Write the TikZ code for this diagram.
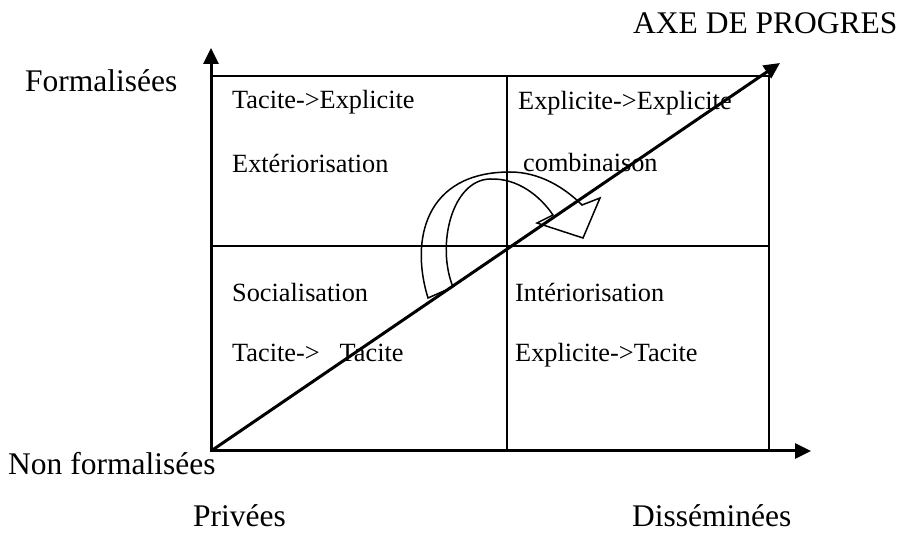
\documentclass[tikz,border=0pt]{standalone}
\usepackage{fontspec}
\setmainfont{Liberation Serif}
\usetikzlibrary{arrows.meta}
\begin{document}
\begin{tikzpicture}[x=1pt,y=-1pt,
  axis/.style={line width=3pt,-{Triangle[length=16pt,width=15pt]}},
  grid/.style={line width=2.2pt},
  bigtxt/.style={anchor=base west,inner sep=0pt,font=\fontsize{31.5}{36}\selectfont},
  boxtxt/.style={anchor=base west,inner sep=0pt,font=\fontsize{26.3}{30}\selectfont},
  bendarrow/.style={line width=1.5pt,line join=miter}]
\useasboundingbox (0,0) rectangle (903,534);
% key points
\coordinate (O) at (211,451);
\coordinate (ytip) at (211,48);
\coordinate (xtip) at (811,451);
\coordinate (dtip) at (780,63);
\coordinate (TR) at (769,76);
\coordinate (midtop) at (507,76);
\coordinate (midbot) at (507,451);
\coordinate (midleft) at (211,246);
\coordinate (midright) at (769,246);
% box
\draw[grid] (O) rectangle (TR);
\draw[grid] (midtop) -- (midbot);
\draw[grid] (midleft) -- (midright);
% axes
\draw[axis] (O) -- (ytip);
\draw[axis] (O) -- (xtip);
\draw[axis] (O) -- (dtip);
% curved arrow
\coordinate (a1) at (428,298);
\coordinate (a2) at (510,172);
\coordinate (a3) at (582,205);
\coordinate (b1) at (453,287);
\coordinate (b2) at (490,179);
\coordinate (b3) at (553,215);
\coordinate (h1) at (537,223);
\coordinate (h2) at (583,238);
\coordinate (h3) at (600,198);
\draw[bendarrow] (b1) -- (a1)
  .. controls (410,240) and (425,172) .. (a2)
  .. controls (540,172) and (565,188) .. (a3)
  -- (h3) -- (h2) -- (h1) -- (b3)
  .. controls (540,196) and (518,178) .. (b2)
  .. controls (452,180) and (436,245) .. (b1);
% outer labels
\node[bigtxt] (axe) at (633,34) {AXE DE PROGRES};
\node[bigtxt] (form) at (25,92) {Formalisées};
\node[bigtxt] (nonform) at (8,475) {Non formalisées};
\node[bigtxt] (priv) at (193,526) {Privées};
\node[bigtxt] (diss) at (632,526) {Disséminées};
% quadrant labels
\node[boxtxt] (q1a) at (232,109) {Tacite->Explicite};
\node[boxtxt] (q1b) at (232,173) {Extériorisation};
\node[boxtxt] (q2a) at (518,110) {Explicite->Explicite};
\node[boxtxt] (q2b) at (523,172) {combinaison};
\node[boxtxt] (q3a) at (232,302) {Socialisation};
\node[boxtxt] (q3b) at (232,362) {Tacite->\hspace{20pt}Tacite};
\node[boxtxt] (q4a) at (515,302) {Intériorisation};
\node[boxtxt] (q4b) at (515,362) {Explicite->Tacite};
\end{tikzpicture}
\end{document}
